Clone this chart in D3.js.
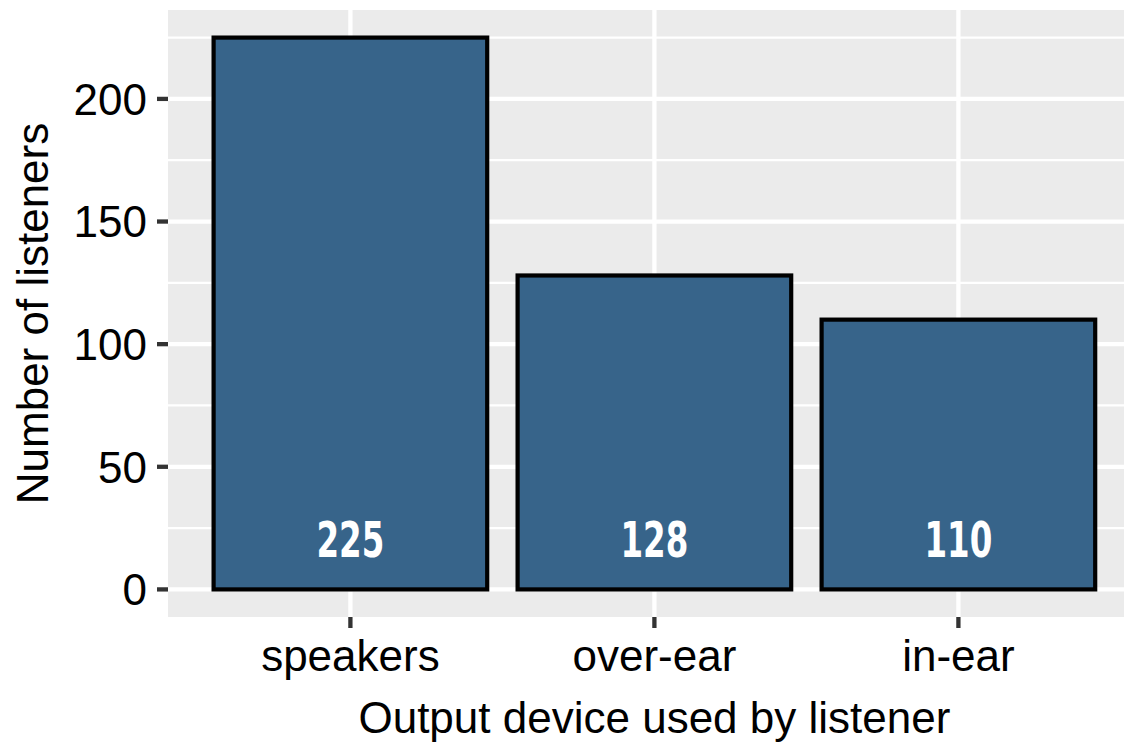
<!DOCTYPE html>
<html>
<head>
<meta charset="utf-8">
<script src="https://cdn.jsdelivr.net/npm/d3@7"></script>
<style>
  html, body { margin: 0; padding: 0; background: #ffffff; }
  svg { display: block; }
</style>
</head>
<body>
<svg id="chart" width="1124" height="742"></svg>
<script>
// ---- data ----
const categories = ["speakers", "over-ear", "in-ear"];
const listeners = [225, 128, 110];
const yTicks = [0, 50, 100, 150, 200];
const yMinor = [25, 75, 125, 175, 225];
const xTitle = "Output device used by listener";
const yTitle = "Number of listeners";

// ---- layout ----
const W = 1124, H = 742;
const panel = { left: 168, top: 10, bottom: 617 };
const unit = 304; // px per discrete unit
const panelRight = panel.left + unit * (categories.length - 1 + 1.2);

const svg = d3.select("#chart");
const textFont = "'Liberation Sans', Arial, Helvetica, sans-serif";

// y scale with ggplot 5% expansion
const maxV = d3.max(listeners);
const expand = maxV * 0.05;
const y = d3.scaleLinear().domain([-expand, maxV + expand]).range([panel.bottom, panel.top]);

// x: discrete positions with 0.6 expansion
const xPos = d3.scaleLinear().domain([0.4, categories.length + 0.6]).range([panel.left, panelRight]);
const x = d => xPos(categories.indexOf(d) + 1);
const barW = 0.9 * unit;

// panel background
svg.append("rect")
  .attr("x", panel.left).attr("y", panel.top)
  .attr("width", panelRight - panel.left).attr("height", panel.bottom - panel.top)
  .attr("fill", "#EBEBEB");

// minor gridlines
svg.append("g").selectAll("line").data(yMinor).join("line")
  .attr("x1", panel.left).attr("x2", panelRight)
  .attr("y1", d => y(d)).attr("y2", d => y(d))
  .attr("stroke", "#ffffff").attr("stroke-width", 2.2);

// major gridlines
svg.append("g").selectAll("line").data(yTicks).join("line")
  .attr("x1", panel.left).attr("x2", panelRight)
  .attr("y1", d => y(d)).attr("y2", d => y(d))
  .attr("stroke", "#ffffff").attr("stroke-width", 4.3);
svg.append("g").selectAll("line").data(categories).join("line")
  .attr("x1", d => x(d)).attr("x2", d => x(d))
  .attr("y1", panel.top).attr("y2", panel.bottom)
  .attr("stroke", "#ffffff").attr("stroke-width", 4.3);

// bars
svg.append("g").selectAll("rect").data(categories).join("rect")
  .attr("x", d => x(d) - barW / 2)
  .attr("width", barW)
  .attr("y", (d, i) => y(listeners[i]))
  .attr("height", (d, i) => y(0) - y(listeners[i]))
  .attr("fill", "#37648A")
  .attr("stroke", "#000000")
  .attr("stroke-width", 4.2);

// bar labels (condensed look via horizontal scaling)
svg.append("g").selectAll("text").data(categories).join("text")
  .attr("transform", d => `translate(${x(d)}, ${y(0) - 32}) scale(0.65, 1)`)
  .attr("text-anchor", "middle")
  .attr("fill", "#ffffff")
  .attr("font-family", "'DejaVu Sans', sans-serif")
  .attr("font-weight", "bold")
  .attr("font-size", 50)
  .text((d, i) => listeners[i]);

// y axis ticks & labels
const yAxis = svg.append("g");
yAxis.selectAll("line").data(yTicks).join("line")
  .attr("x1", panel.left - 11).attr("x2", panel.left)
  .attr("y1", d => y(d)).attr("y2", d => y(d))
  .attr("stroke", "#333333").attr("stroke-width", 4.3);
yAxis.selectAll("text").data(yTicks).join("text")
  .attr("x", panel.left - 21)
  .attr("y", d => y(d))
  .attr("dy", "0.36em")
  .attr("text-anchor", "end")
  .attr("font-family", textFont).attr("font-size", 44)
  .attr("fill", "#000000")
  .text(d => d);

// x axis ticks & labels
const xAxis = svg.append("g");
xAxis.selectAll("line").data(categories).join("line")
  .attr("x1", d => x(d)).attr("x2", d => x(d))
  .attr("y1", panel.bottom).attr("y2", panel.bottom + 11)
  .attr("stroke", "#333333").attr("stroke-width", 4.3);
xAxis.selectAll("text").data(categories).join("text")
  .attr("x", d => x(d))
  .attr("y", 671)
  .attr("text-anchor", "middle")
  .attr("font-family", textFont).attr("font-size", 44)
  .attr("fill", "#000000")
  .text(d => d);

// axis titles
svg.append("text")
  .attr("x", (panel.left + panelRight) / 2)
  .attr("y", 733)
  .attr("text-anchor", "middle")
  .attr("font-family", textFont).attr("font-size", 44)
  .attr("fill", "#000000")
  .text(xTitle);

svg.append("text")
  .attr("transform", `translate(48, ${(panel.top + panel.bottom) / 2}) rotate(-90)`)
  .attr("text-anchor", "middle")
  .attr("font-family", textFont).attr("font-size", 44)
  .attr("fill", "#000000")
  .text(yTitle);
</script>
</body>
</html>
